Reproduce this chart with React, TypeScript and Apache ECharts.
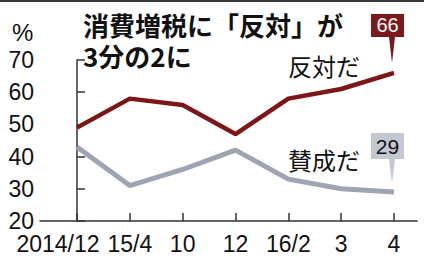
import React, { useEffect, useRef } from "react";
import * as echarts from "echarts";

const categories = ["2014/12", "15/4", "10", "12", "16/2", "3", "4"];
const opposeValues = [49, 58, 56, 47, 58, 61, 66];
const supportValues = [43, 31, 36, 42, 33, 30, 29];
const yTicks = [20, 30, 40, 50, 60, 70];
const titleLines = ["消費増税に「反対」が", "3分の2に"];
const opposeName = "反対だ";
const supportName = "賛成だ";

const NUM_FONT = "'Liberation Sans', Arial, sans-serif";
const CJK_FONT = "'Noto Sans CJK JP', 'Noto Sans', sans-serif";
const RED = "#7d1619";
const GRAY = "#9ea4b2";
const X_MIN = -0.7;
const X_MAX = 6.435;

export default function App() {
  const ref = useRef<HTMLDivElement>(null);
  useEffect(() => {
    if (!ref.current) return;
    const chart = echarts.init(ref.current, undefined, { renderer: "svg" });
    const idx = categories.map((_, i) => i);
    const last = categories.length - 1;
    const labelBase = { fontSize: 23, lineHeight: 23, fontFamily: NUM_FONT, color: "#111", margin: 11 };
    chart.setOption({
      animation: false,
      backgroundColor: "#ffffff",
      grid: { left: 40, right: 7, top: 60, bottom: 41, containLabel: false },
      xAxis: [
        {
          type: "value",
          min: X_MIN,
          max: X_MAX,
          position: "bottom",
          splitLine: { show: false },
          axisLine: { show: true, lineStyle: { color: "#333", width: 1.5 } },
          axisTick: { show: true, inside: true, length: 8, customValues: idx, lineStyle: { color: "#333", width: 1.5 } },
          axisLabel: {
            ...labelBase,
            customValues: idx.slice(1),
            showMinLabel: true,
            showMaxLabel: true,
            formatter: (v: number) => categories[Math.round(v)],
          },
        },
        {
          type: "value",
          min: X_MIN,
          max: X_MAX,
          position: "bottom",
          splitLine: { show: false },
          axisLine: { show: false },
          axisTick: { show: false },
          axisLabel: {
            ...labelBase,
            customValues: [0],
            showMinLabel: true,
            formatter: (v: number) => "{a|" + categories[Math.round(v)] + "}",
            rich: { a: { fontSize: 23, lineHeight: 23, fontFamily: NUM_FONT, color: "#111", padding: [0, 38, 0, 0] } },
          },
        },
      ],
      yAxis: {
        type: "value",
        min: yTicks[0],
        max: yTicks[yTicks.length - 1],
        interval: 10,
        splitLine: { show: false },
        axisLine: { show: true, lineStyle: { color: "#333", width: 1.5 } },
        axisTick: { show: true, inside: true, length: 8, lineStyle: { color: "#333", width: 1.5 } },
        axisLabel: { margin: 6, fontSize: 23, lineHeight: 16, fontFamily: NUM_FONT, color: "#111" },
      },
      series: [
        {
          type: "line",
          name: opposeName,
          xAxisIndex: 0,
          data: opposeValues.map((v, i) => [i, v]),
          symbol: "none",
          lineStyle: { color: RED, width: 4.5 },
          itemStyle: { color: RED },
          markPoint: {
            symbol: "path://M0,0 L33,0 L33,23 L24,23 L21,49 L18,23 L0,23 Z",
            symbolSize: [33, 49],
            symbolOffset: [-6.5, -34.4],
            itemStyle: { color: "#7a1a1c" },
            label: { show: true, formatter: "{c}", offset: [0, -13], color: "#fff", fontSize: 20, fontFamily: NUM_FONT },
            data: [{ coord: [last, opposeValues[last]], value: opposeValues[last] }],
          },
        },
        {
          type: "line",
          name: supportName,
          xAxisIndex: 0,
          data: supportValues.map((v, i) => [i, v]),
          symbol: "none",
          lineStyle: { color: GRAY, width: 5 },
          itemStyle: { color: GRAY },
          markPoint: {
            symbol: "path://M0,0 L33,0 L33,26 L24,26 L21,50 L18,26 L0,26 Z",
            symbolSize: [33, 50],
            symbolOffset: [-6.5, -34],
            itemStyle: { color: "#c4c8d3" },
            label: { show: true, formatter: "{c}", offset: [0, -12], color: "#111", fontSize: 21, fontFamily: NUM_FONT },
            data: [{ coord: [last, supportValues[last]], value: supportValues[last] }],
          },
        },
      ],
      graphic: [
        { type: "rect", left: 0, top: 0, shape: { width: 424, height: 2 }, style: { fill: "#3a3a3a" } },
        {
          type: "text",
          left: 83,
          top: 9,
          style: { text: titleLines.join("\n"), font: "bold 26px " + CJK_FONT, lineHeight: 31, fill: "#111" },
        },
        {
          type: "text",
          left: 12,
          top: 20,
          style: { text: "%", font: "24px " + NUM_FONT, fill: "#111" },
        },
        {
          type: "text",
          left: 288,
          top: 53,
          style: { text: opposeName, font: "24px " + CJK_FONT, fill: "#111" },
        },
        {
          type: "text",
          left: 288,
          top: 147,
          style: { text: supportName, font: "24px " + CJK_FONT, fill: "#111" },
        },
      ],
    });
    return () => chart.dispose();
  }, []);
  return <div ref={ref} style={{ width: 424, height: 262, position: "absolute", left: 0, top: 0 }} />;
}
